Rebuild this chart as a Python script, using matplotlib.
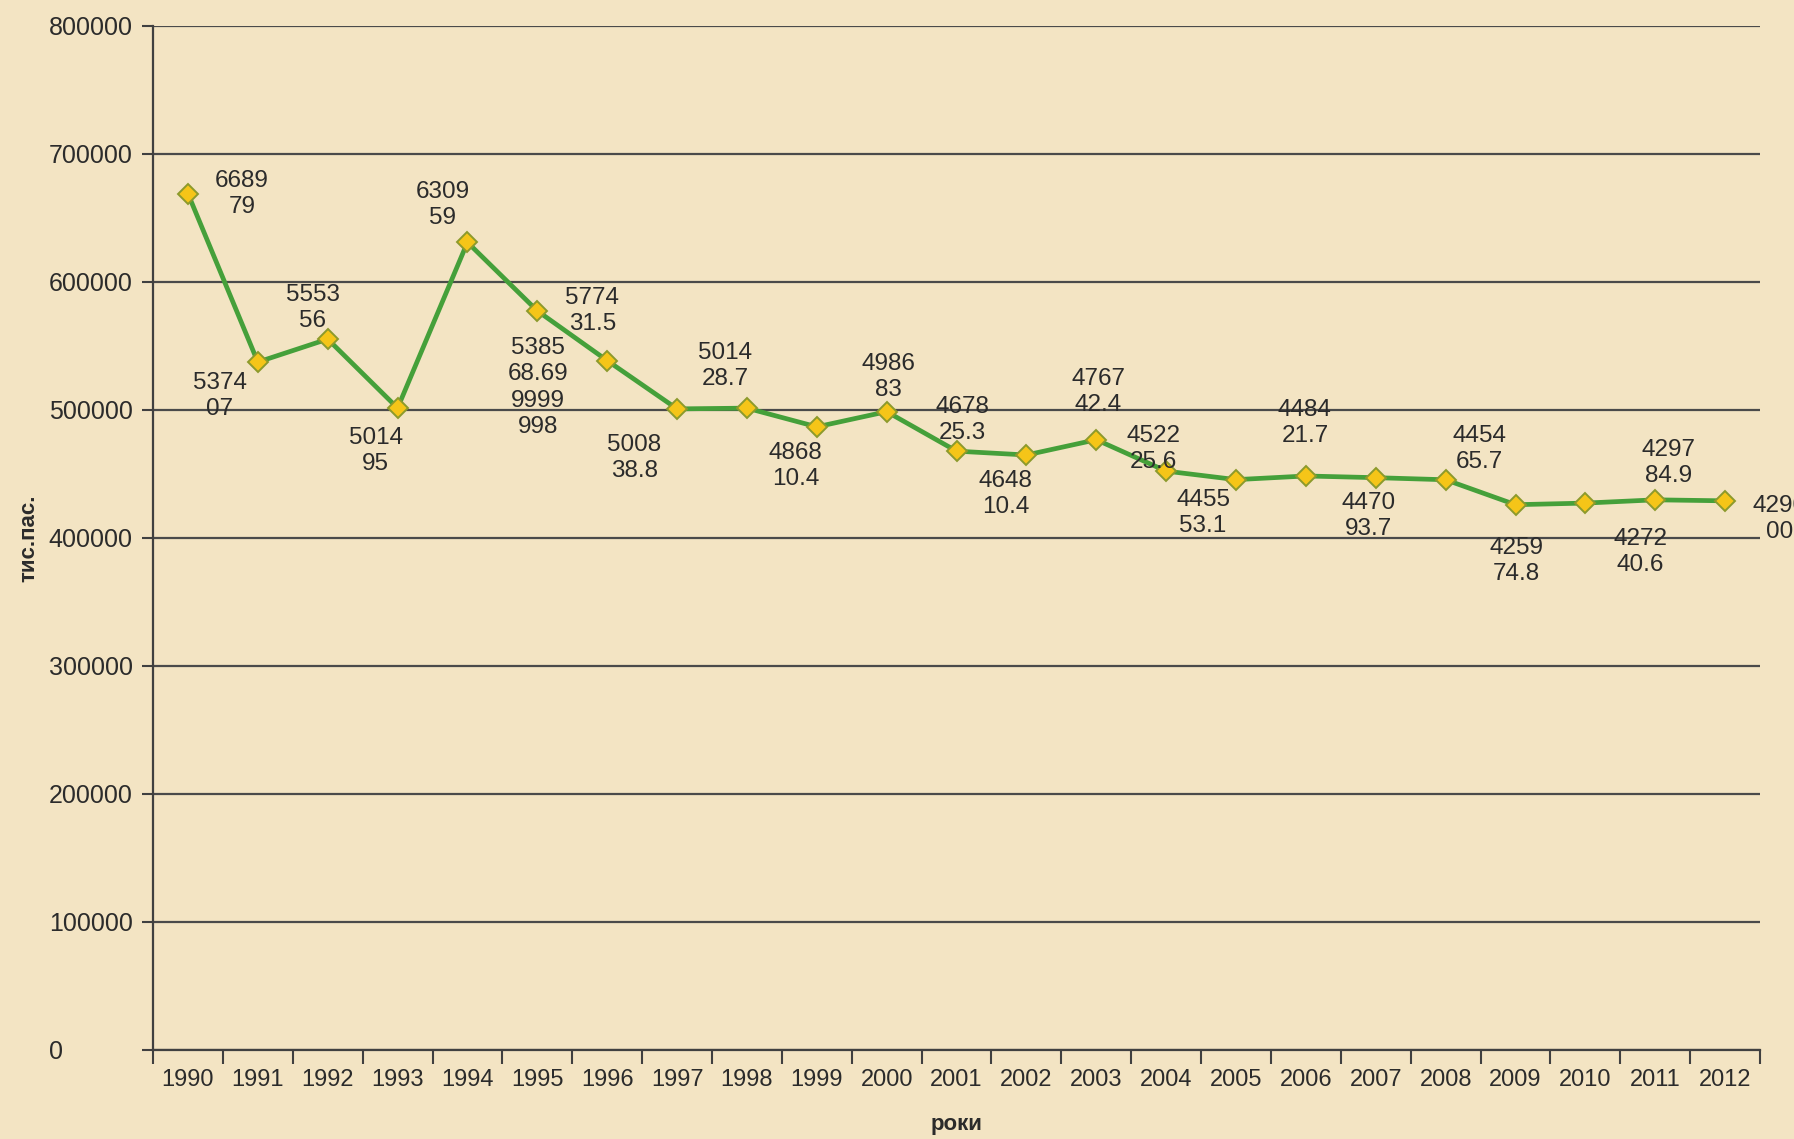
import matplotlib
matplotlib.use("Agg")
import matplotlib.pyplot as plt
import numpy as np

plt.rcParams["font.family"] = ["Liberation Sans", "DejaVu Sans"]

# passenger traffic, thousand passengers
years = [str(y) for y in range(1990, 2013)]
values = [668979, 537407, 555356, 501495, 630959, 577431.5, 538568.69999998,
          500838.8, 501428.7, 486810.4, 498683, 467825.3, 464810.4, 476742.4,
          452225.6, 445553.1, 448421.7, 447093.7, 445465.7, 425974.8, 427240.6,
          429784.9, 429000]
# label text as it appears on the chart (wrapped value)
labels = ["6689\n79", "5374\n07", "5553\n56", "5014\n95", "6309\n59", "5774\n31.5",
          "5385\n68.69\n9999\n998", "5008\n38.8", "5014\n28.7", "4868\n10.4",
          "4986\n83", "4678\n25.3", "4648\n10.4", "4767\n42.4", "4522\n25.6",
          "4455\n53.1", "4484\n21.7", "4470\n93.7", "4454\n65.7", "4259\n74.8",
          "4272\n40.6", "4297\n84.9", "4290\n00"]
# label offsets from the marker (pixels, x right / y up)
label_dx = [54, -38, -15, -22, -25, 55, -69, -43, -22, -21, 2, 6, -21, 2, -13,
            -33, -1, -7, 34, 1, 55, 13, 54]
label_dy = [0, -34, 31, -43, 37, 0, -27, -49, 42, -39, 35, 31, -39, 48, 22,
            -33, 53, -38, 31, -56, -49, 37, -18]

yticks = [0, 100000, 200000, 300000, 400000, 500000, 600000, 700000, 800000]

bg = "#F3E4C3"
fig = plt.figure(figsize=(17.94, 11.39), dpi=100, facecolor=bg)
ax = fig.add_axes([0.0853, 0.0782, 0.8958, 0.8990], facecolor=bg)

x = np.arange(len(years))
ax.plot(x, values, color="#45A03A", lw=3.4, marker="D", ms=10.5,
        mfc="#F5C518", mec="#8C9A2C", mew=1.4, zorder=3, clip_on=False)

for i in range(len(years)):
    ax.annotate(labels[i], (x[i], values[i]), xytext=(label_dx[i], label_dy[i]),
                textcoords="offset pixels", ha="center", va="center",
                fontsize=17.5, color="#2b2b2b", linespacing=1.25, zorder=4,
                annotation_clip=False)

ax.set_xlim(-0.5, len(years) - 0.5)
ax.set_ylim(0, 800000)
ax.set_yticks(yticks)
ax.set_yticklabels([str(v) for v in yticks])
ax.yaxis.grid(True, color="#4a4a4a", lw=1.6)
ax.set_axisbelow(True)

ax.set_xticks(x)
ax.set_xticklabels(years)
ax.set_xticks(np.arange(-0.5, len(years)), minor=True)
ax.tick_params(axis="x", which="major", length=0, pad=14, labelsize=17, labelcolor="#2b2b2b")
ax.tick_params(axis="x", which="minor", length=10, width=1.5, color="#404040")
ax.tick_params(axis="y", length=8, width=1.5, color="#404040", pad=67,
               labelsize=18, labelcolor="#2b2b2b")
for t in ax.get_yticklabels():
    t.set_horizontalalignment("left")

for s in ["top", "right"]:
    ax.spines[s].set_visible(False)
for s in ["left", "bottom"]:
    ax.spines[s].set_color("#404040")
    ax.spines[s].set_linewidth(1.6)

ax.set_xlabel("роки", fontsize=16, fontweight="bold", color="#2b2b2b", va="center")
ax.xaxis.set_label_coords(0.5, -0.073)
ax.set_ylabel("тис.пас.", fontsize=16, fontweight="bold", color="#2b2b2b")
ax.yaxis.set_label_coords(-0.071, 0.5)

fig.savefig("out.png", dpi=100, facecolor=bg)
